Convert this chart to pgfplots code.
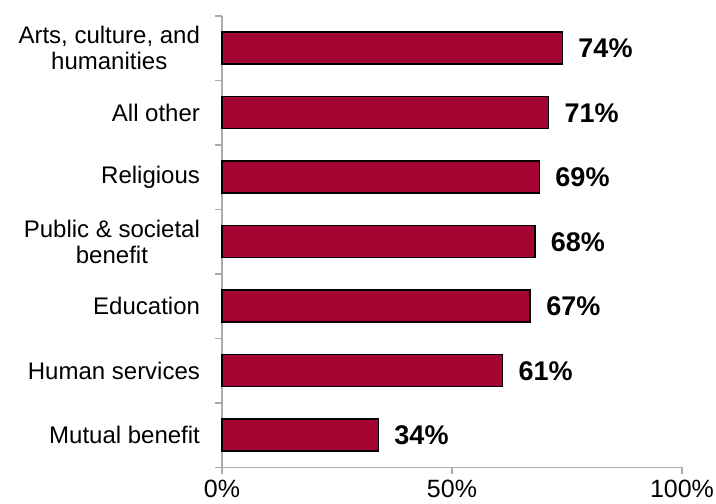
\documentclass[border=0pt]{standalone}
\usepackage{pgfplots}
\pgfplotsset{compat=1.18}
\usepackage{fontspec}
\setmainfont{Liberation Sans}
\definecolor{barred}{HTML}{A50533}
\definecolor{axgray}{HTML}{ABABAB}
\begin{document}
\begin{tikzpicture}
\path[use as bounding box] (0,0) rectangle (716pt,504pt);
\begin{axis}[
  at={(222pt,36.5pt)}, anchor=south west,
  x=4.6pt, y=64.5pt,
  xmin=0, xmax=100, ymin=-0.5, ymax=6.5,
  axis x line*=bottom, axis y line*=left,
  axis line style={axgray, line width=1.6pt},
  tick style={axgray, line width=1.6pt},
  tick align=outside, major tick length=6.5pt,
  /pgf/number format/assume math mode=true,
  xtick={0,50,100}, xticklabels={0\%,50\%,100\%},
  xticklabel style={font=\fontsize{25}{25}\selectfont, text=black, yshift=-3pt},
  ytick={-0.5,0.5,...,6.5}, yticklabels={{},{},{},{},{},{},{},{}},
  extra y ticks={0,1,2,3,4,5,6},
  extra y tick labels={Mutual benefit, Human services, Education, Public \& societal\\benefit, Religious, All other, {Arts, culture, and\\humanities}},
  extra y tick style={major tick length=0pt},
  yticklabel style={font=\fontsize{24}{26}\selectfont, align=center, anchor=east, xshift=-18.5pt, text=black},
  xbar, bar width=32pt,
  nodes near coords={\pgfmathprintnumber{\pgfplotspointmeta}\%},
  nodes near coords style={anchor=west, font=\bfseries\fontsize{27}{27}\selectfont, text=black, xshift=12pt},
  clip=false,
]
\addplot[fill=barred, draw=black, line width=1.5pt] coordinates {
  (34,0) (61,1) (67,2) (68,3) (69,4) (71,5) (74,6)
};
\end{axis}
\end{tikzpicture}
\end{document}
